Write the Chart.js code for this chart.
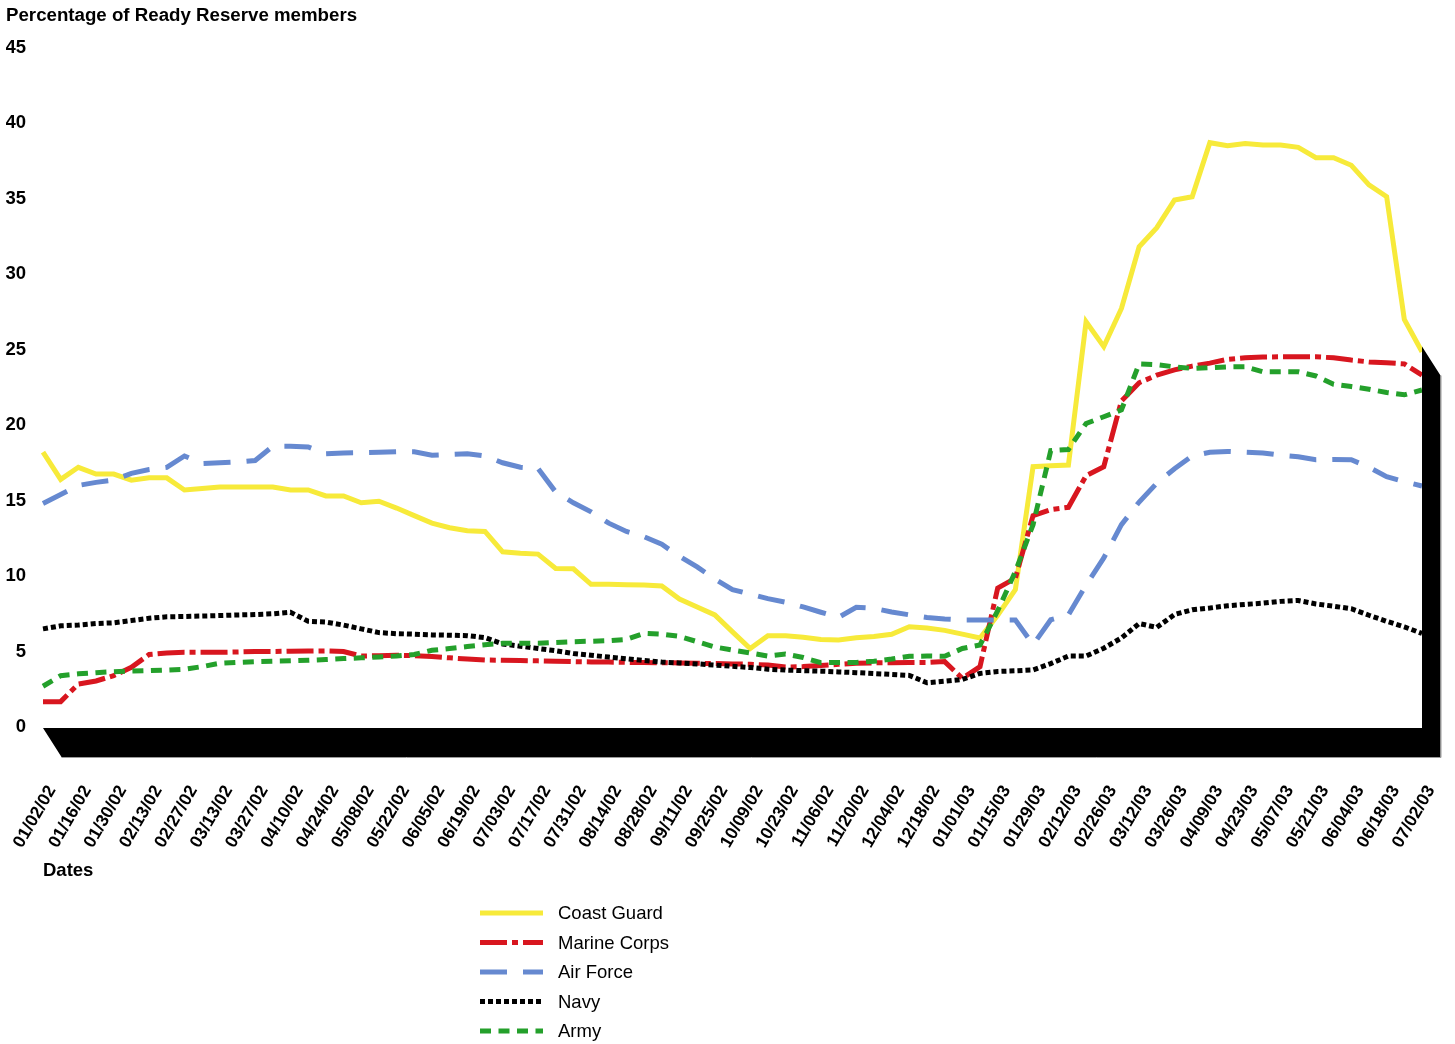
<!DOCTYPE html>
<html>
<head>
<meta charset="utf-8">
<title>Ready Reserve members</title>
<script src="https://cdn.jsdelivr.net/npm/chart.js@4.4.1/dist/chart.umd.min.js"></script>
<style>
    html, body { margin: 0; padding: 0; background: #fff; }
    #wrap { width: 1455px; height: 1044px; position: relative; }
</style>
</head>
<body>
<div id="wrap"><canvas id="reserveChart"></canvas></div>
<script>
const dates = [
    "01/02/02", "01/09/02", "01/16/02", "01/23/02", "01/30/02", "02/06/02", "02/13/02", "02/20/02", "02/27/02", "03/06/02",
    "03/13/02", "03/20/02", "03/27/02", "04/03/02", "04/10/02", "04/17/02", "04/24/02", "05/01/02", "05/08/02", "05/15/02",
    "05/22/02", "05/29/02", "06/05/02", "06/12/02", "06/19/02", "06/26/02", "07/03/02", "07/10/02", "07/17/02", "07/24/02",
    "07/31/02", "08/07/02", "08/14/02", "08/21/02", "08/28/02", "09/04/02", "09/11/02", "09/18/02", "09/25/02", "10/02/02",
    "10/09/02", "10/16/02", "10/23/02", "10/30/02", "11/06/02", "11/13/02", "11/20/02", "11/27/02", "12/04/02", "12/11/02",
    "12/18/02", "12/25/02", "01/01/03", "01/08/03", "01/15/03", "01/22/03", "01/29/03", "02/05/03", "02/12/03", "02/19/03",
    "02/26/03", "03/05/03", "03/12/03", "03/19/03", "03/26/03", "04/02/03", "04/09/03", "04/16/03", "04/23/03", "04/30/03",
    "05/07/03", "05/14/03", "05/21/03", "05/28/03", "06/04/03", "06/11/03", "06/18/03", "06/25/03", "07/02/03"
];

const coastGuard = [
    18.2, 16.4, 17.2, 16.75, 16.75, 16.35, 16.5, 16.5, 15.7, 15.8,
    15.9, 15.9, 15.9, 15.9, 15.7, 15.7, 15.3, 15.3, 14.85, 14.95,
    14.5, 14.0, 13.5, 13.2, 13.0, 12.95, 11.6, 11.5, 11.45, 10.5,
    10.48, 9.45, 9.45, 9.42, 9.4, 9.34, 8.48, 7.95, 7.42, 6.3,
    5.2, 6.05, 6.05, 5.95, 5.8, 5.76, 5.91, 6.0, 6.14, 6.64,
    6.55, 6.4, 6.15, 5.9, 7.4, 9.1, 17.24, 17.3, 17.35, 26.84,
    25.19, 27.72, 31.81, 33.07, 34.9, 35.12, 38.7, 38.5, 38.65, 38.54,
    38.54, 38.39, 37.7, 37.7, 37.2, 35.9, 35.12, 27.0, 24.85
];

const marineCorps = [
    1.68, 1.68, 2.85, 3.05, 3.4, 3.95, 4.8, 4.9, 4.95, 4.95,
    4.95, 4.97, 5.0, 5.0, 5.02, 5.03, 5.04, 5.0, 4.7, 4.72,
    4.75, 4.72, 4.67, 4.58, 4.5, 4.44, 4.42, 4.4, 4.38, 4.35,
    4.33, 4.31, 4.3, 4.28, 4.27, 4.26, 4.24, 4.22, 4.2, 4.18,
    4.16, 4.1, 3.97, 4.0, 4.08, 4.15, 4.22, 4.25, 4.26, 4.27,
    4.27, 4.33, 3.22, 4.0, 9.2, 9.85, 14.0, 14.4, 14.55, 16.65,
    17.24, 21.6, 22.8, 23.3, 23.65, 23.9, 24.1, 24.35, 24.45, 24.5,
    24.52, 24.52, 24.52, 24.45, 24.3, 24.18, 24.12, 24.05, 23.3
];

const airForce = [
    14.8, 15.4, 16.0, 16.2, 16.35, 16.8, 17.05, 17.2, 17.95, 17.45,
    17.5, 17.55, 17.65, 18.6, 18.6, 18.55, 18.1, 18.15, 18.17, 18.2,
    18.23, 18.23, 18.0, 18.05, 18.1, 17.95, 17.5, 17.2, 17.12, 15.56,
    14.85, 14.25, 13.5, 12.95, 12.6, 12.1, 11.3, 10.6, 9.8, 9.1,
    8.8, 8.5, 8.27, 7.95, 7.6, 7.26, 7.93, 7.86, 7.62, 7.43,
    7.25, 7.15, 7.09, 7.09, 7.09, 7.09, 5.45, 7.1, 7.42, 9.4,
    11.2, 13.4, 14.9, 16.15, 17.1, 17.95, 18.2, 18.25, 18.2, 18.15,
    18.0, 17.9, 17.7, 17.72, 17.7, 17.2, 16.58, 16.25, 15.96
];

const navy = [
    6.5, 6.7, 6.75, 6.85, 6.9, 7.05, 7.2, 7.3, 7.32, 7.35,
    7.38, 7.42, 7.45, 7.5, 7.6, 7.0, 6.95, 6.75, 6.5, 6.25,
    6.18, 6.15, 6.1, 6.08, 6.05, 5.92, 5.5, 5.35, 5.2, 5.05,
    4.87, 4.75, 4.63, 4.52, 4.4, 4.3, 4.24, 4.18, 4.1, 4.02,
    3.94, 3.83, 3.77, 3.73, 3.7, 3.65, 3.6, 3.54, 3.48, 3.42,
    2.93, 3.03, 3.15, 3.55, 3.68, 3.72, 3.78, 4.2, 4.7, 4.7,
    5.22, 5.9, 6.85, 6.6, 7.45, 7.76, 7.88, 8.03, 8.12, 8.2,
    8.32, 8.38, 8.15, 8.0, 7.83, 7.4, 7.0, 6.63, 6.2
];

const army = [
    2.7, 3.4, 3.52, 3.6, 3.66, 3.7, 3.73, 3.77, 3.82, 4.0,
    4.22, 4.28, 4.33, 4.36, 4.38, 4.42, 4.47, 4.53, 4.58, 4.64,
    4.7, 4.8, 5.08, 5.2, 5.33, 5.45, 5.54, 5.54, 5.54, 5.6,
    5.65, 5.68, 5.72, 5.8, 6.2, 6.15, 6.0, 5.65, 5.3, 5.1,
    4.9, 4.7, 4.83, 4.6, 4.26, 4.27, 4.28, 4.35, 4.5, 4.68,
    4.7, 4.68, 5.2, 5.43, 7.7, 10.3, 13.4, 18.3, 18.38, 20.1,
    20.55, 21.0, 24.05, 24.0, 23.85, 23.75, 23.8, 23.85, 23.86, 23.53,
    23.53, 23.53, 23.25, 22.7, 22.55, 22.37, 22.15, 22.0, 22.32
];

const FONT = "'Liberation Sans', Arial, Helvetica, sans-serif";

// black 3D floor under the plot and wall on the right side
const floorPlugin = {
    id: "floor",
    afterDatasetsDraw(chart) {
        const { ctx, chartArea, scales } = chart;
        const dx = 18.5;
        const dy = 29;
        const top = chartArea.bottom + 1;
        const wallTop = scales.y.getPixelForValue(25.2);

        ctx.save();
        ctx.beginPath();
        ctx.moveTo(chartArea.left, top);
        ctx.lineTo(chartArea.right, top);
        ctx.lineTo(chartArea.right, wallTop);
        ctx.lineTo(chartArea.right + dx, wallTop + dy);
        ctx.lineTo(chartArea.right + dx, top + dy);
        ctx.lineTo(chartArea.left + dx, top + dy);
        ctx.closePath();
        ctx.fillStyle = "#000";
        ctx.fill();
        ctx.lineWidth = 1;
        ctx.strokeStyle = "#9a9a9a";
        ctx.beginPath();
        ctx.moveTo(chartArea.left + dx, top + dy + 0.5);
        ctx.lineTo(chartArea.right + dx + 0.5, top + dy + 0.5);
        ctx.lineTo(chartArea.right + dx + 0.5, wallTop + dy);
        ctx.stroke();
        ctx.restore();
    }
};

// vertical legend below the axis
const legendPlugin = {
    id: "stackedLegend",
    afterDraw(chart) {
        const { ctx } = chart;
        const x0 = 480;
        const x1 = 543;
        const textX = 558;
        const firstY = 913;
        const step = 29.5;

        ctx.save();
        ctx.font = "18.5px " + FONT;
        ctx.textBaseline = "middle";
        ctx.textAlign = "left";
        chart.data.datasets.forEach((ds, i) => {
            const y = firstY + i * step;
            ctx.beginPath();
            ctx.setLineDash(ds.borderDash || []);
            ctx.lineWidth = ds.borderWidth;
            ctx.strokeStyle = ds.borderColor;
            ctx.moveTo(x0, y);
            ctx.lineTo(x1, y);
            ctx.stroke();
            ctx.setLineDash([]);
            ctx.fillStyle = "#000";
            ctx.fillText(ds.label, textX, y + 1);
        });
        ctx.restore();
    }
};

function makeSeries(label, data, color, dash, order) {
    return {
        label: label,
        data: data,
        borderColor: color,
        backgroundColor: color,
        borderWidth: 5,
        borderDash: dash,
        pointRadius: 0,
        tension: 0,
        fill: false,
        order: order
    };
}

Chart.defaults.font.family = FONT;
Chart.defaults.color = "#000";

new Chart(document.getElementById("reserveChart").getContext("2d"), {
    type: "line",
    data: {
        labels: dates,
        datasets: [
            makeSeries("Coast Guard", coastGuard, "#f7ea3a", [], 4),
            makeSeries("Marine Corps", marineCorps, "#d8161f", [27, 5, 6, 5], 3),
            makeSeries("Air Force", airForce, "#6689d0", [27, 16], 2),
            makeSeries("Navy", navy, "#000000", [5, 3], 1),
            makeSeries("Army", army, "#24a02b", [11, 7.5], 0)
        ]
    },
    options: {
        animation: false,
        responsive: true,
        maintainAspectRatio: false,
        layout: {
            padding: { left: 6, right: 33, top: 0, bottom: 152 }
        },
        plugins: {
            legend: { display: false },
            tooltip: { enabled: false },
            title: {
                display: true,
                text: "Percentage of Ready Reserve members",
                align: "start",
                color: "#000",
                font: { size: 18.7, weight: "bold" },
                padding: { top: 5, bottom: 20.1 }
            }
        },
        scales: {
            x: {
                offset: false,
                grid: { display: false, drawTicks: false },
                border: { display: false },
                ticks: {
                    autoSkip: false,
                    minRotation: 60,
                    maxRotation: 60,
                    padding: 55,
                    labelOffset: 9,
                    color: "#000",
                    font: { size: 17.5, weight: "bold" },
                    callback: (value, index) => (index % 2 === 0 ? dates[index] : "")
                },
                title: {
                    display: true,
                    text: "Dates",
                    align: "start",
                    color: "#000",
                    font: { size: 18.5, weight: "bold" },
                    padding: { top: 0, bottom: 10 }
                },
                afterFit(scale) {
                    scale.height = 165;
                    scale.paddingLeft = 0;
                    scale.paddingRight = 0;
                }
            },
            y: {
                min: 0,
                max: 45,
                grid: { display: false, drawTicks: false },
                border: { display: false },
                ticks: {
                    stepSize: 5,
                    padding: 17,
                    color: "#000",
                    font: { size: 18.5, weight: "bold" }
                },
                afterFit(scale) {
                    scale.width = 37;
                }
            }
        }
    },
    plugins: [floorPlugin, legendPlugin]
});
</script>
</body>
</html>
